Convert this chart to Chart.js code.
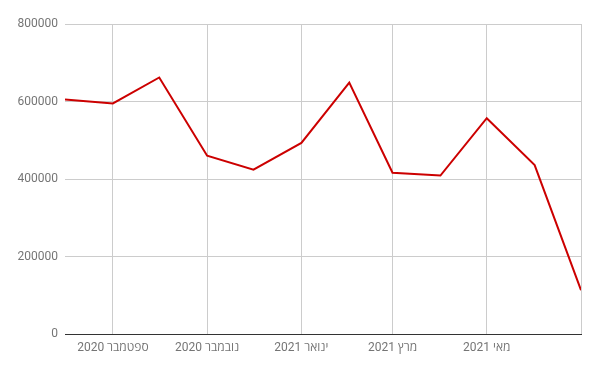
<!DOCTYPE html>
<html lang="he">
<head>
<meta charset="utf-8">
<title>Chart</title>
<script src="https://cdn.jsdelivr.net/npm/chart.js@4/dist/chart.umd.min.js"></script>
<style>
    body { margin: 0; background: #fff; }
    canvas { display: block; }
</style>
</head>
<body>
<canvas id="lineChart" width="600" height="371"></canvas>
<script>
// Months (Aug 2020 - Jul 2021)
const months = [
    'אוגוסט 2020', 'ספטמבר 2020', 'אוקטובר 2020', 'נובמבר 2020', 'דצמבר 2020',
    'ינואר 2021', 'פברואר 2021', 'מרץ 2021', 'אפריל 2021', 'מאי 2021', 'יוני 2021', 'יולי 2021'
];
const monthDates = [
    '2020-08-01', '2020-09-01', '2020-10-01', '2020-11-01', '2020-12-01', '2021-01-01',
    '2021-02-01', '2021-03-01', '2021-04-01', '2021-05-01', '2021-06-01', '2021-07-01'
];
const values = [605000, 595000, 662000, 460000, 424000, 493000, 649000, 416000, 409000, 557000, 436000, 113000];
const yTicks = [0, 200000, 400000, 600000, 800000];

document.addEventListener('DOMContentLoaded', function () {
    const ctx = document.getElementById('lineChart').getContext('2d');

    // days since first month, so spacing follows month lengths
    const start = Date.parse(monthDates[0]);
    const days = monthDates.map(d => (Date.parse(d) - start) / 86400000);
    const points = days.map((d, i) => ({ x: d, y: values[i] }));

    const font = { family: "Roboto, 'Open Sans', sans-serif", size: 12 };

    new Chart(ctx, {
        type: 'line',
        data: {
            datasets: [{
                data: points,
                borderColor: '#cc0000',
                borderWidth: 2,
                pointRadius: 0,
                fill: false,
                tension: 0
            }]
        },
        options: {
            responsive: false,
            animation: false,
            devicePixelRatio: 1,
            layout: { padding: { top: 24, right: 19, left: 0, bottom: 0 } },
            plugins: {
                legend: { display: false },
                tooltip: { enabled: false }
            },
            scales: {
                x: {
                    type: 'linear',
                    min: days[0],
                    max: days[days.length - 1],
                    border: { color: '#333', width: 1 },
                    grid: {
                        drawTicks: false,
                        color: c => (c.index % 2 === 1 ? '#cccccc' : 'rgba(0,0,0,0)')
                    },
                    afterBuildTicks: scale => {
                        scale.ticks = days.map(d => ({ value: d }));
                    },
                    ticks: {
                        autoSkip: false,
                        maxRotation: 0,
                        padding: 7,
                        color: '#757575',
                        font: font,
                        callback: function (val, i) {
                            // every second month, last one is at the edge
                            return (i % 2 === 1 && i < months.length - 1) ? months[i] : '';
                        }
                    },
                    afterFit: scale => { scale.height = 37; }
                },
                y: {
                    min: yTicks[0],
                    max: yTicks[yTicks.length - 1],
                    border: { display: false },
                    grid: {
                        drawTicks: false,
                        color: c => (c.tick.value === 0 ? '#333' : '#cccccc')
                    },
                    afterBuildTicks: scale => {
                        scale.ticks = yTicks.map(v => ({ value: v }));
                    },
                    ticks: {
                        padding: 7,
                        color: '#757575',
                        font: font,
                        callback: v => String(v)
                    },
                    afterFit: scale => { scale.width = 65; }
                }
            }
        }
    });
});
</script>
</body>
</html>
